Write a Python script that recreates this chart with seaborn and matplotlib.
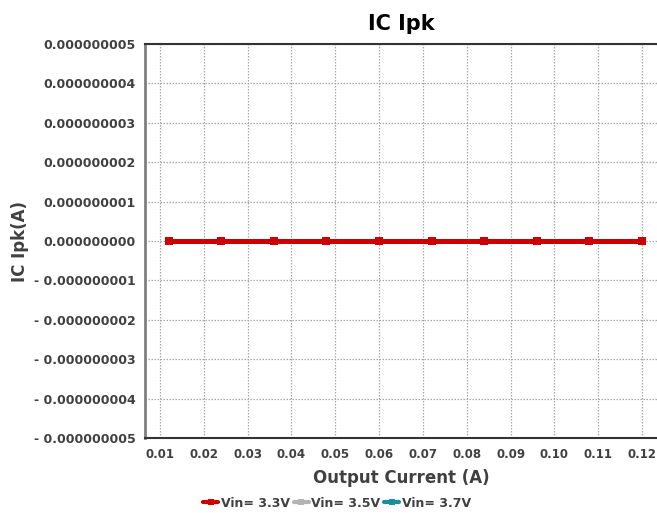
import pandas as pd
import matplotlib.pyplot as plt
import seaborn as sns
import numpy as np
from matplotlib.ticker import FuncFormatter

# data
output_current = [0.012, 0.024, 0.036, 0.048, 0.060, 0.072, 0.084, 0.096, 0.108, 0.120]
ipk_vin33 = [0, 0, 0, 0, 0, 0, 0, 0, 0, 0]
ipk_vin35 = [0, 0, 0, 0, 0, 0, 0, 0, 0, 0]
ipk_vin37 = [0, 0, 0, 0, 0, 0, 0, 0, 0, 0]
series_names = ["Vin= 3.3V", "Vin= 3.5V", "Vin= 3.7V"]
series_colors = ["#cc0000", "#b4b4b4", "#1f8c9c"]
x_ticks = [0.01, 0.02, 0.03, 0.04, 0.05, 0.06, 0.07, 0.08, 0.09, 0.10, 0.11, 0.12]
y_ticks = [-5e-9, -4e-9, -3e-9, -2e-9, -1e-9, 0, 1e-9, 2e-9, 3e-9, 4e-9, 5e-9]

df = pd.DataFrame({
    "Output Current": output_current * 3,
    "Ipk": ipk_vin33 + ipk_vin35 + ipk_vin37,
    "Vin": [series_names[0]] * 10 + [series_names[1]] * 10 + [series_names[2]] * 10,
})

sns.set_style("white")
plt.rcParams['font.family'] = ['DejaVu Sans']
plt.rcParams['font.weight'] = 'bold'

fig = plt.figure(figsize=(6.57, 5.13), dpi=100)
ax = fig.add_axes([145 / 657, 75 / 513, 512 / 657, 394 / 513])

# draw last series first so the red one ends up on top
for name, col in reversed(list(zip(series_names, series_colors))):
    sub = df[df["Vin"] == name]
    sns.lineplot(ax=ax, x=sub["Output Current"], y=sub["Ipk"], color=col,
                 linewidth=3.6, marker="s", markersize=6, markeredgewidth=0,
                 label=name, legend=False)

ax.set_xlim(0.0066, 0.1234)
ax.set_ylim(-5e-9, 5e-9)
ax.set_xticks(x_ticks)
ax.set_yticks(y_ticks)
ax.xaxis.set_major_formatter(FuncFormatter(lambda v, p: f"{v:.2f}"))
ax.yaxis.set_major_formatter(FuncFormatter(
    lambda v, p: ("- " if v < -1e-15 else "") + f"{abs(v):.9f}"))
ax.tick_params(axis="x", length=0, pad=7, labelsize=8.5, labelcolor="#404040")
ax.tick_params(axis="y", length=0, pad=7, labelsize=9, labelcolor="#404040")
for lab in ax.get_xticklabels() + ax.get_yticklabels():
    lab.set_fontweight("bold")

ax.grid(True, linestyle=(0, (1.2, 1.2)), color="#a8a8a8", linewidth=0.9)
ax.spines["right"].set_visible(False)
ax.spines["left"].set_color("#808080")
ax.spines["left"].set_linewidth(2)
ax.spines["top"].set_color("#333333")
ax.spines["top"].set_linewidth(1.5)
ax.spines["bottom"].set_color("#333333")
ax.spines["bottom"].set_linewidth(1.5)

ax.set_title("IC Ipk", fontsize=15, fontweight="bold", color="black", pad=10)
ax.set_xlabel("Output Current (A)", fontsize=12, fontweight="bold", color="#404040", labelpad=6)
ax.set_ylabel("IC Ipk(A)", fontsize=12, fontweight="bold", color="#404040", labelpad=3)

handles, labels = ax.get_legend_handles_labels()
order = [labels.index(n) for n in series_names]
leg = fig.legend([handles[i] for i in order], [labels[i] for i in order],
                 loc="center", bbox_to_anchor=(0.513, 0.019), ncol=3, frameon=False,
                 handlelength=1.2, handletextpad=0.2, columnspacing=0.3,
                 prop={"size": 9, "weight": "bold"})
for t in leg.get_texts():
    t.set_color("#404040")
for h in leg.legend_handles:
    h.set_linewidth(3)
    h.set_markersize(4)

fig.savefig("out.png", dpi=100)
